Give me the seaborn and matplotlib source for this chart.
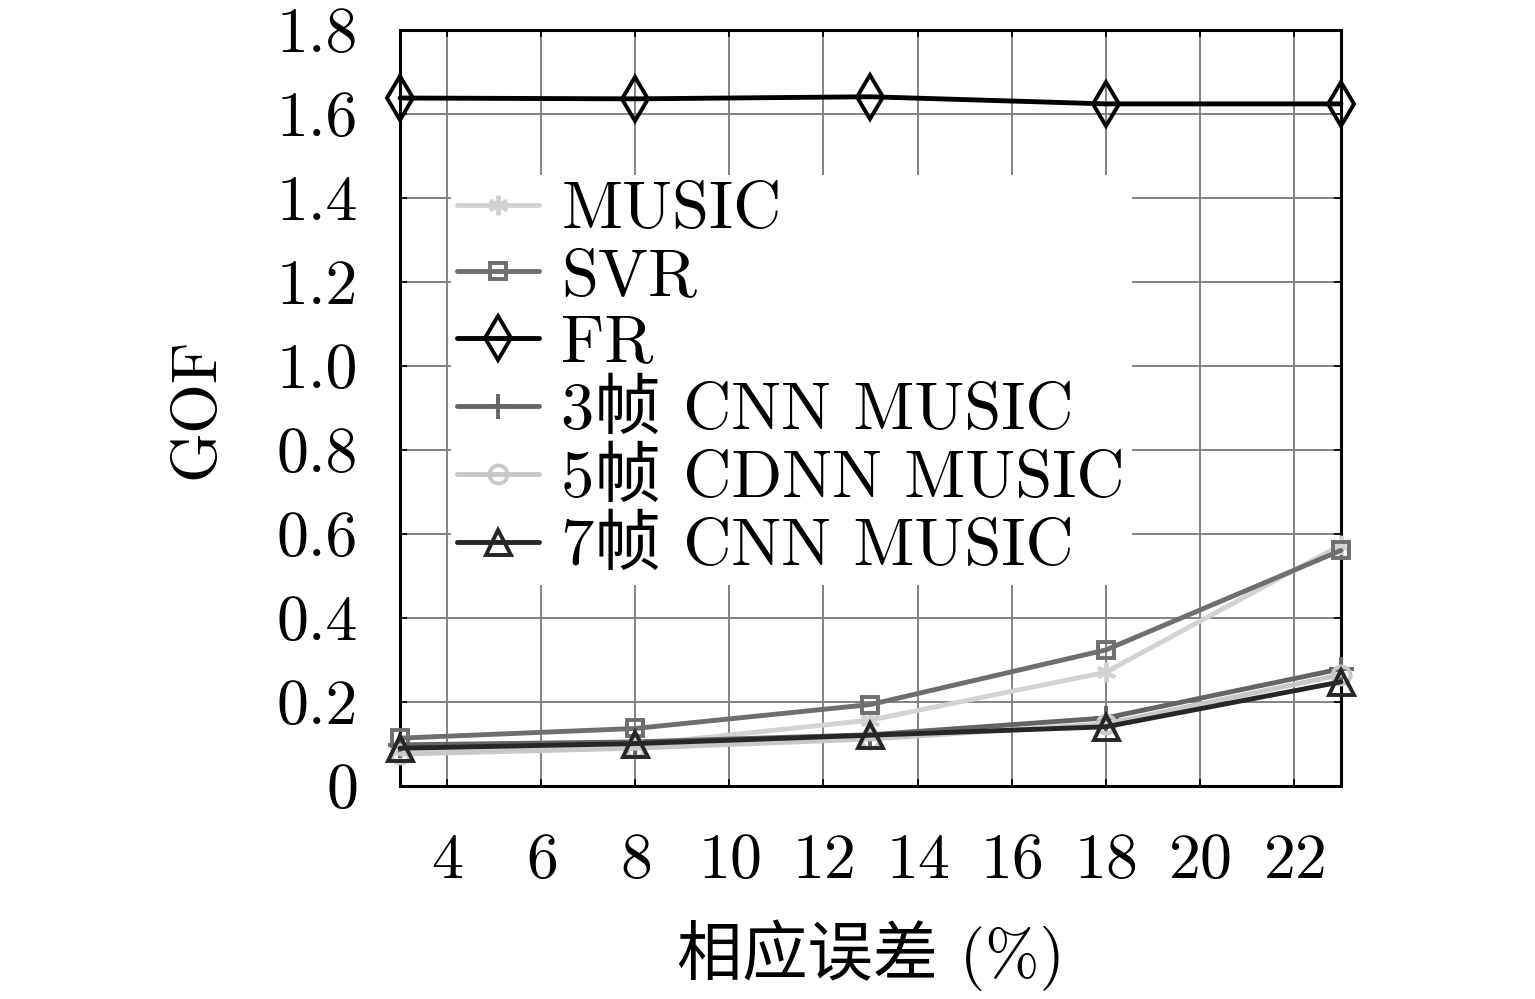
import matplotlib
matplotlib.use("Agg")
import matplotlib.pyplot as plt
import seaborn as sns

# data
error_pct = [3, 8, 13, 18, 23]
music = [0.085, 0.098, 0.157, 0.271, 0.574]
svr = [0.114, 0.137, 0.194, 0.324, 0.561]
fr = [1.638, 1.636, 1.641, 1.624, 1.624]
cnn3 = [0.098, 0.105, 0.122, 0.162, 0.279]
cdnn5 = [0.076, 0.090, 0.112, 0.148, 0.265]
cnn7 = [0.090, 0.101, 0.121, 0.141, 0.248]

labels = ["MUSIC", "SVR", "FR", "3帧 CNN MUSIC", "5帧 CDNN MUSIC", "7帧 CNN MUSIC"]
series = [music, svr, fr, cnn3, cdnn5, cnn7]
colors = ["#d2d2d2", "#6e6e6e", "#000000", "#646464", "#c8c8c8", "#262626"]
markers = [(6, 2, 0), "s", "d", "+", "o", "^"]
msizes = [14, 11, 22, 18, 13, 18]

xticks = [4, 6, 8, 10, 12, 14, 16, 18, 20, 22]
yticks = [0, 0.2, 0.4, 0.6, 0.8, 1.0, 1.2, 1.4, 1.6, 1.8]
yticklabels = ["0", "0.2", "0.4", "0.6", "0.8", "1.0", "1.2", "1.4", "1.6", "1.8"]

sns.set_theme(style="white")
plt.rcParams['font.family'] = ['cmr10', 'Noto Sans CJK SC', 'DejaVu Sans']
plt.rcParams['axes.formatter.use_mathtext'] = True
for k in ['text.color', 'axes.labelcolor', 'xtick.color', 'ytick.color']:
    plt.rcParams[k] = 'black'

fig = plt.figure(figsize=(15.35, 9.99), dpi=100)
ax = fig.add_axes([0.2606, 0.2132, 0.8736 - 0.2606, 0.970 - 0.2132])

for vals, lab, c, m, ms in zip(series, labels, colors, markers, msizes):
    sns.lineplot(x=error_pct, y=vals, ax=ax, color=c, marker=m, markersize=ms,
                 markerfacecolor='none', markeredgecolor=c, markeredgewidth=2.8,
                 linewidth=3.5, label=lab, clip_on=False, zorder=3)

ax.set_xlim(3, 23)
ax.set_ylim(0, 1.8)
ax.set_xticks(xticks)
ax.set_yticks(yticks)
ax.set_yticklabels(yticklabels)
ax.grid(True, color="#7a7a7a", linewidth=1.3)
ax.set_axisbelow(True)
for s in ax.spines.values():
    s.set_color("black")
    s.set_linewidth(2.2)
ax.tick_params(axis='x', labelsize=46, pad=34, direction='in', length=5, top=True, bottom=True)
ax.tick_params(axis='y', labelsize=46, pad=30, direction='in', length=5, left=True, right=True)

ax.set_xlabel("相应误差 (%)", fontsize=47, labelpad=20)
ax.set_ylabel("GOF", fontsize=46, labelpad=36)

leg = ax.legend(loc='upper left', bbox_to_anchor=(0.054, 0.808), frameon=True, fontsize=48,
                handlelength=1.23, handletextpad=0.33, labelspacing=0.1, borderpad=0.1,
                borderaxespad=0)
leg.get_frame().set_facecolor('white')
leg.get_frame().set_edgecolor('none')
leg.get_frame().set_alpha(1)
leg.set_zorder(2.5)

plt.savefig("out.png", dpi=100)
